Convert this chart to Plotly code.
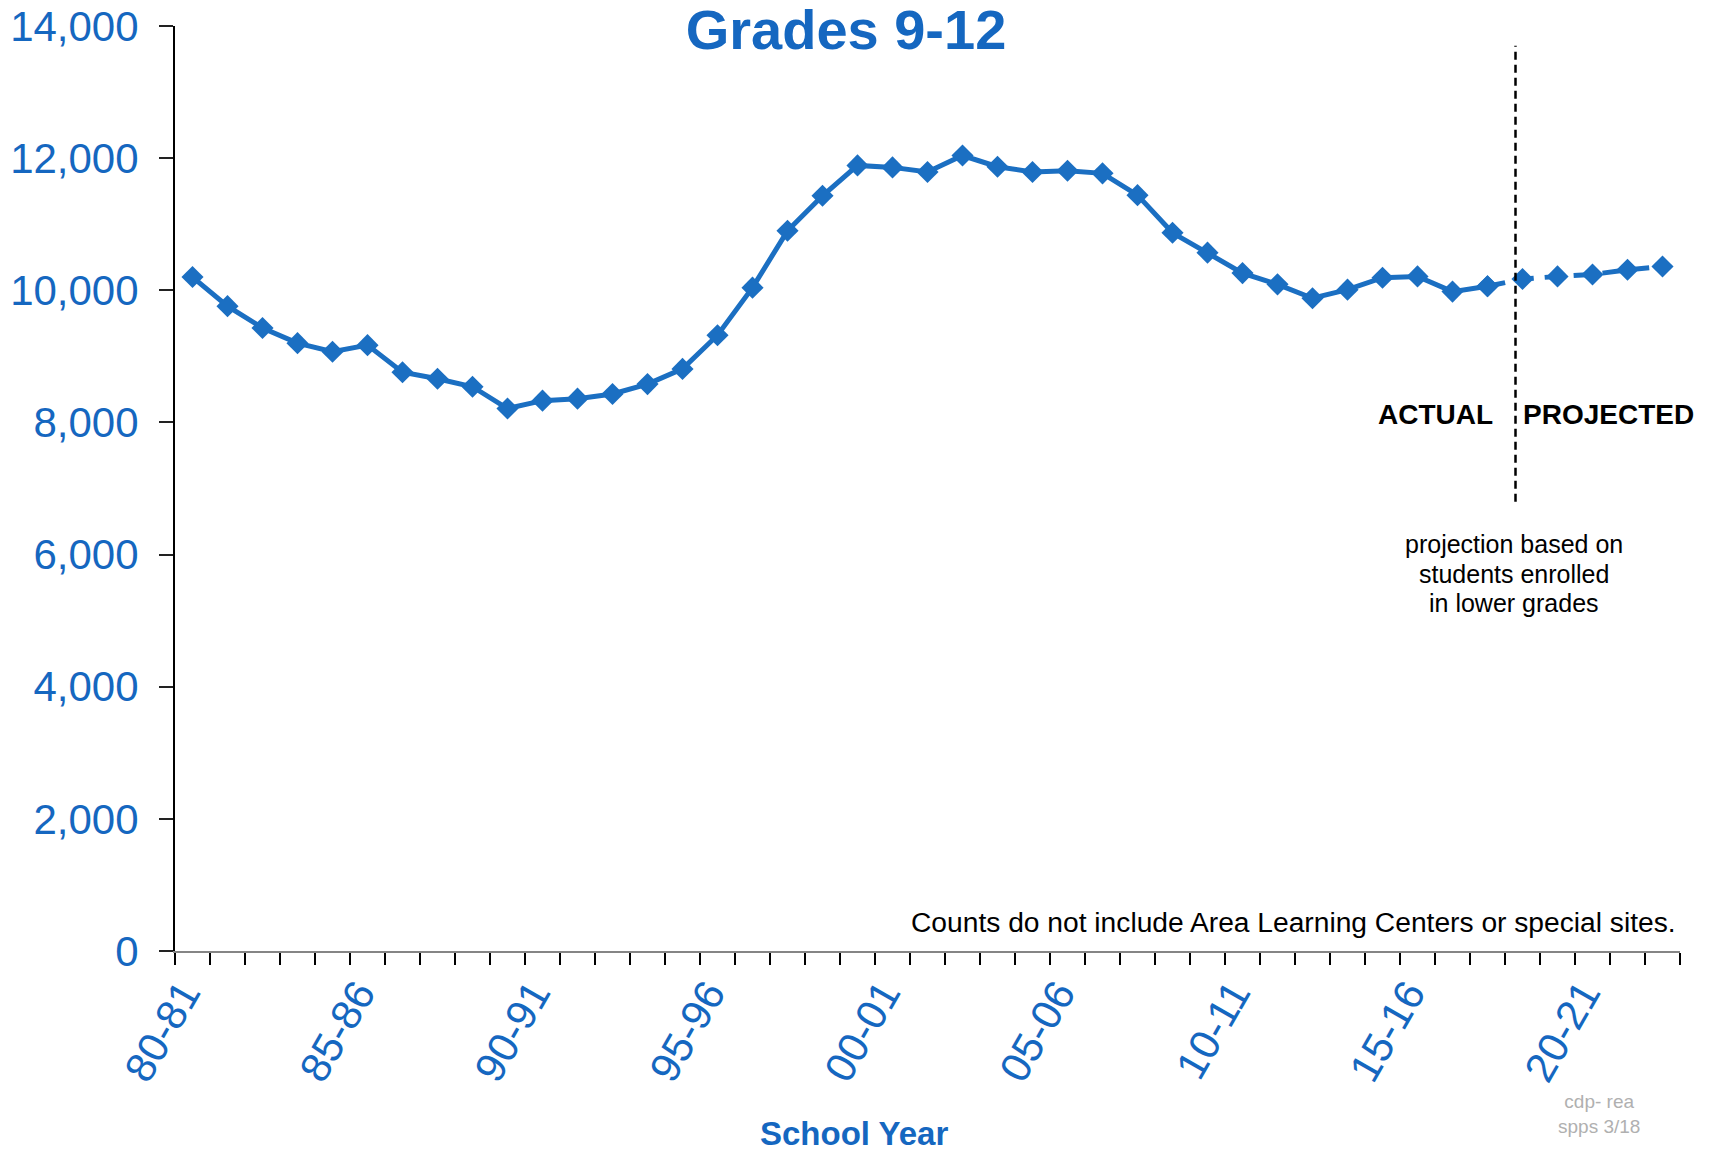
import plotly.graph_objects as go

school_years = [
    "80-81", "81-82", "82-83", "83-84", "84-85", "85-86", "86-87", "87-88", "88-89", "89-90",
    "90-91", "91-92", "92-93", "93-94", "94-95", "95-96", "96-97", "97-98", "98-99", "99-00",
    "00-01", "01-02", "02-03", "03-04", "04-05", "05-06", "06-07", "07-08", "08-09", "09-10",
    "10-11", "11-12", "12-13", "13-14", "14-15", "15-16", "16-17", "17-18",
    "18-19", "19-20", "20-21", "21-22", "22-23",
]

actual_enrollment = [
    10200, 9760, 9430, 9200, 9070, 9170, 8760, 8660, 8540, 8210,
    8330, 8360, 8430, 8580, 8810, 9320, 10040, 10900, 11430, 11890,
    11860, 11790, 12040, 11870, 11790, 11810, 11770, 11440, 10870, 10570,
    10260, 10090, 9880, 10010, 10190, 10210, 9980, 10060,
]

projected_enrollment = [10170, 10210, 10240, 10310, 10360]

tick_labels = ["80-81", "85-86", "90-91", "95-96", "00-01", "05-06", "10-11", "15-16", "20-21"]
y_ticks = [0, 2000, 4000, 6000, 8000, 10000, 12000, 14000]

BLUE = "#1b6fc2"
TEXT_BLUE = "#1567c0"
FONT = "Liberation Sans, Arial, sans-serif"

W, H = 1701, 1144

n_act = len(actual_enrollment)
x_all = list(range(len(school_years)))
x_act = x_all[:n_act]
x_proj = x_all[n_act - 1:]
y_proj = [actual_enrollment[-1]] + projected_enrollment
label_pos = [school_years.index(t) for t in tick_labels]
boundaries = [i - 0.5 for i in range(len(school_years) + 1)]
split_x = n_act - 0.2

fig = go.Figure()
fig.add_trace(go.Scatter(
    x=x_act, y=actual_enrollment, mode="lines+markers",
    line=dict(color=BLUE, width=5),
    marker=dict(symbol="diamond", size=17, color=BLUE),
    showlegend=False,
))
fig.add_trace(go.Scatter(
    x=x_proj, y=y_proj, mode="lines+markers",
    line=dict(color=BLUE, width=5, dash="18px,11px"),
    marker=dict(symbol="diamond", size=17, color=BLUE),
    showlegend=False,
))

fig.add_shape(type="line", xref="x", yref="y", x0=split_x, x1=split_x, y0=6800, y1=13700,
              line=dict(color="black", width=2.5, dash="8px,5px"))

annos = [
    dict(text="ACTUAL", x=0.8772, y=0.5805, xanchor="right", yanchor="middle",
         font=dict(size=28, color="black", family=FONT, weight="bold")),
    dict(text="PROJECTED", x=0.8945, y=0.5805, xanchor="left", yanchor="middle",
         font=dict(size=28, color="black", family=FONT, weight="bold")),
    dict(text="projection based on", x=0.890, y=0.4395, xanchor="center", yanchor="middle",
         font=dict(size=25, color="black", family=FONT)),
    dict(text="students enrolled", x=0.890, y=0.4076, xanchor="center", yanchor="middle",
         font=dict(size=25, color="black", family=FONT)),
    dict(text="in lower grades", x=0.890, y=0.3757, xanchor="center", yanchor="middle",
         font=dict(size=25, color="black", family=FONT)),
    dict(text="Counts do not include Area Learning Centers or special sites.", x=0.9985, y=0.0314,
         xanchor="right", yanchor="middle", font=dict(size=28.2, color="black", family=FONT)),
    dict(text="School Year", x=0.451, y=-0.1968, xanchor="center", yanchor="middle",
         font=dict(size=33, color=TEXT_BLUE, family=FONT, weight="bold")),
    dict(text="cdp- rea<br>spps 3/18", x=0.946, y=-0.176, xanchor="center", yanchor="middle",
         align="center", font=dict(size=19, color="#b0b0b0", family=FONT)),
]
for a in annos:
    fig.add_annotation(xref="paper", yref="paper", showarrow=False, **a)

fig.update_layout(
    width=W, height=H,
    margin=dict(l=167, r=29, t=18, b=201, autoexpand=False),
    paper_bgcolor="white", plot_bgcolor="white",
    title=dict(text="Grades 9-12", x=838 / W, xanchor="center", y=1 - 21 / H, yanchor="middle",
               yref="container", font=dict(size=56, color=TEXT_BLUE, family=FONT, weight="bold")),
    font=dict(family=FONT),
)

fig.update_xaxes(
    range=[-0.5, len(school_years) - 0.5], automargin=False,
    tickmode="array", tickvals=label_pos, ticktext=tick_labels,
    ticks="", tickangle=-60, ticklabelstandoff=-1, ticklabelshift=-9, ticklabeloverflow="allow",
    tickfont=dict(size=42, color=TEXT_BLUE, family=FONT),
    showline=True, linecolor="#858585", linewidth=2,
    showgrid=False, zeroline=False,
    minor=dict(tickmode="array", tickvals=boundaries, ticks="outside", ticklen=12,
               tickwidth=2, tickcolor="black", showgrid=False),
)
fig.update_yaxes(
    range=[0, 14000], automargin=False, tickmode="array", tickvals=y_ticks,
    tickformat=",d", ticks="outside", ticklen=14, tickwidth=2, tickcolor="#222222",
    ticklabelstandoff=12, ticklabeloverflow="allow",
    tickfont=dict(size=42, color=TEXT_BLUE, family=FONT),
    showline=True, linecolor="black", linewidth=2,
    showgrid=False, zeroline=False,
)

fig.write_html("out.html")
